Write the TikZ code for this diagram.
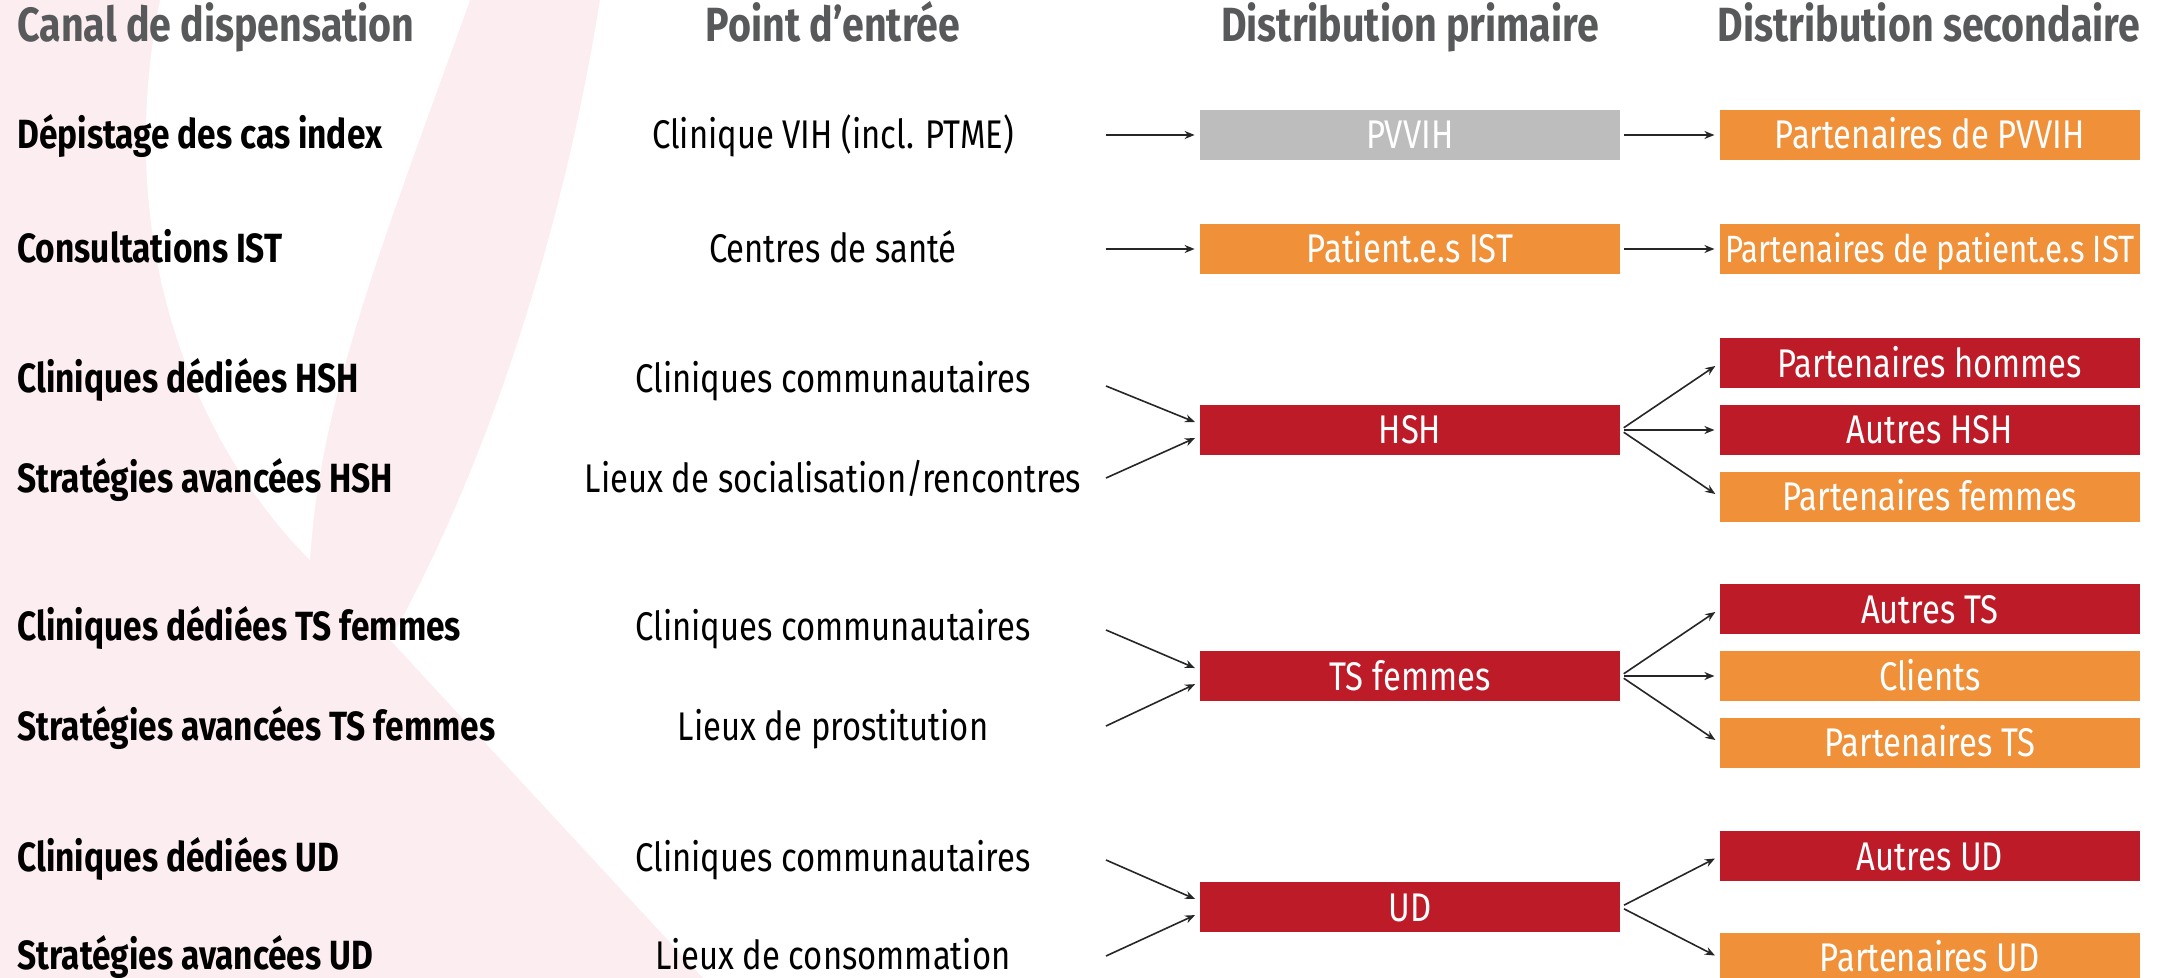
\documentclass[tikz,border=0pt]{standalone}
\usepackage{fontspec}
\setmainfont{Fira Sans}[FakeStretch=0.82]
\usetikzlibrary{positioning,arrows.meta}
\definecolor{grisbox}{HTML}{BDBDBD}
\definecolor{orbox}{HTML}{F0913A}
\definecolor{rgbox}{HTML}{BE1B28}
\definecolor{gristxt}{HTML}{58595B}
\definecolor{rose}{HTML}{FCEEF0}
\tikzset{head/.style={font=\fontsize{24}{28}\selectfont\bfseries,text=gristxt,inner sep=0pt,text height=16.5pt,text depth=0pt},
	 canal/.style={anchor=west,font=\fontsize{20.4}{24}\selectfont\bfseries,inner sep=0pt,text height=14pt,text depth=0pt},
	 entree/.style={font=\fontsize{20}{24}\selectfont,inner sep=0pt,text height=14pt,text depth=0pt},
	 pbox/.style={minimum width=210pt,minimum height=25pt,inner sep=0pt,text=white,font=\fontsize{20}{24}\selectfont,text height=14pt,text depth=0pt},
	 gbox/.style={pbox,fill=grisbox},
	 obox/.style={pbox,fill=orbox},
	 rbox/.style={pbox,fill=rgbox},
	 fl/.style={-{Stealth[length=5pt,width=4pt]},line width=0.8pt,black!85,shorten >=2.5pt},
	 node distance = 8pt and 49.5pt
	 }

\begin{document}
\begin{tikzpicture}[x=0.5pt,y=-0.5pt] % canaux -> points d'entree -> distribution
	\useasboundingbox (0,0) rectangle (2167,978);
	\fill[rose] (0,0) -- (600,0) .. controls (560,250) and (480,480) .. (390,640) -- (703,978) -- (0,978) -- cycle;
	\fill[white] (160,0) .. controls (110,250) and (200,450) .. (310,560) .. controls (320,400) and (380,250) .. (470,0) -- cycle;
	\node[head,anchor=west] (h1) at (17,25) {Canal de dispensation};
	\node[head] (h2) at (833,25) {Point d’entrée};
	\node[head] (h3) at (1410,25) {Distribution primaire};
	\node[head] (h4) at (1929,25) {Distribution secondaire};
	\node[canal] (c1) at (17,135) {Dépistage des cas index};
	\node[canal] (c2) at (17,249) {Consultations IST};
	\node[canal] (c3) at (17,379) {Cliniques dédiées HSH};
	\node[canal] (c4) at (17,478) {Stratégies avancées HSH};
	\node[canal] (c5) at (17,626) {Cliniques dédiées TS femmes};
	\node[canal] (c6) at (17,726) {Stratégies avancées TS femmes};
	\node[canal] (c7) at (17,857) {Cliniques dédiées UD};
	\node[canal] (c8) at (17,955) {Stratégies avancées UD};
	\node[entree] (e1) at (833,135) {Clinique VIH (incl. PTME)};
	\node[entree] (e2) at (833,249) {Centres de santé};
	\node[entree] (e3) at (833,379) {Cliniques communautaires};
	\node[entree] (e4) at (833,478) {Lieux de socialisation/rencontres};
	\node[entree] (e5) at (833,626) {Cliniques communautaires};
	\node[entree] (e6) at (833,726) {Lieux de prostitution};
	\node[entree] (e7) at (833,857) {Cliniques communautaires};
	\node[entree] (e8) at (833,955) {Lieux de consommation};
	\node[gbox] (p1) at (1410,135) {PVVIH};
	\node[obox] (p2) at (1410,249) {Patient.e.s IST};
	\node[rbox] (p3) at (1410,430) {HSH};
	\node[rbox] (p4) at (1410,676) {TS femmes};
	\node[rbox] (p5) at (1410,907) {UD};
	\node[obox] (s1) [right=of p1] {Partenaires de PVVIH};
	\node[obox,font=\fontsize{19}{23}\selectfont] (s2) [right=of p2] {Partenaires de patient.e.s IST};
	\node[rbox] (s4) [right=of p3] {Autres HSH};
	\node[rbox] (s3) [above=of s4] {Partenaires hommes};
	\node[obox] (s5) [below=of s4] {Partenaires femmes};
	\node[obox] (s7) [right=of p4] {Clients};
	\node[rbox] (s6) [above=of s7] {Autres TS};
	\node[obox] (s8) [below=of s7] {Partenaires TS};
	\node[rbox] (s9) [above right=0pt and 49.5pt of p5] {Autres UD};
	\node[obox] (s10) [below right=0pt and 49.5pt of p5] {Partenaires UD};
	\coordinate (t1) at (1106,135); \coordinate (t2) at (1106,249);
	\coordinate (t3) at (1106,386); \coordinate (t4) at (1106,478);
	\coordinate (t5) at (1106,630); \coordinate (t6) at (1106,726);
	\coordinate (t7) at (1106,860); \coordinate (t8) at (1106,956);
	\draw[fl] (t1) -- (p1.west); \draw[fl] (t2) -- (p2.west);
	\draw[fl] (t3) -- ([yshift=3pt]p3.west); \draw[fl] (t4) -- ([yshift=-3pt]p3.west);
	\draw[fl] (t5) -- ([yshift=3pt]p4.west); \draw[fl] (t6) -- ([yshift=-3pt]p4.west);
	\draw[fl] (t7) -- ([yshift=3pt]p5.west); \draw[fl] (t8) -- ([yshift=-3pt]p5.west);
	\draw[fl,shorten <=2pt] (p1.east) -- (s1.west); \draw[fl,shorten <=2pt] (p2.east) -- (s2.west);
	\draw[fl,shorten <=2pt] (p3.east) -- (s3.west); \draw[fl,shorten <=2pt] (p3.east) -- (s4.west);
	\draw[fl,shorten <=2pt] (p3.east) -- (s5.west);
	\draw[fl,shorten <=2pt] (p4.east) -- (s6.west); \draw[fl,shorten <=2pt] (p4.east) -- (s7.west);
	\draw[fl,shorten <=2pt] (p4.east) -- (s8.west);
	\draw[fl,shorten <=2pt] (p5.east) -- (s9.west); \draw[fl,shorten <=2pt] (p5.east) -- (s10.west);
\end{tikzpicture}
\end{document}
